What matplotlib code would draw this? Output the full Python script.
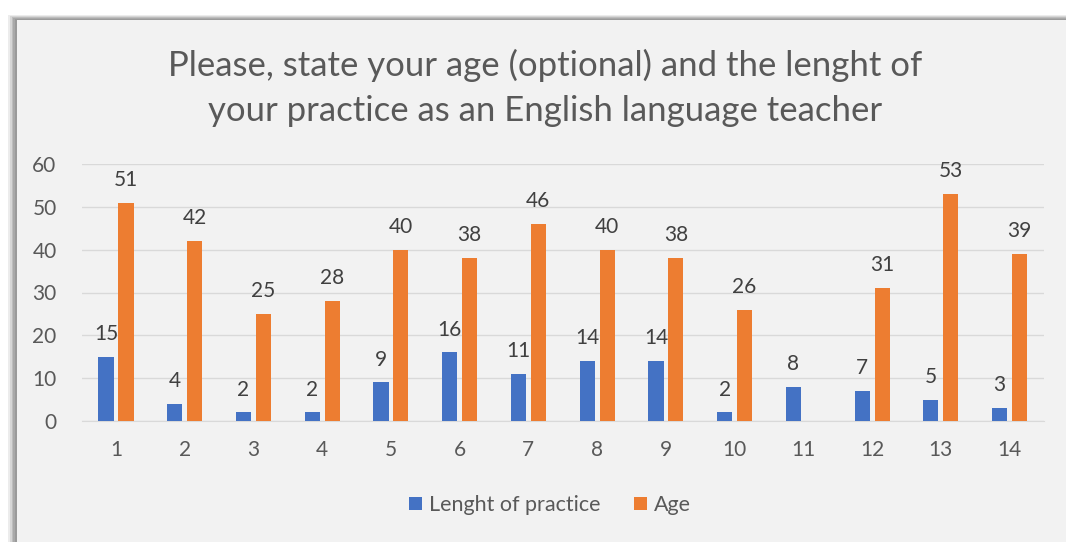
import matplotlib
matplotlib.use("Agg")
import matplotlib.pyplot as plt
from matplotlib.patches import Rectangle
import numpy as np

categories = [str(i) for i in range(1, 15)]
practice = [15, 4, 2, 2, 9, 16, 11, 14, 14, 2, 8, 7, 5, 3]
age = [51, 42, 25, 28, 40, 38, 46, 40, 38, 26, None, 31, 53, 39]
series_names = ["Lenght of practice", "Age"]
title = "Please, state your age (optional) and the lenght of\nyour practice as an English language teacher"

plt.rcParams['font.family'] = ['Lato', 'DejaVu Sans']

W, H = 1066, 542
fig = plt.figure(figsize=(W/100, H/100), dpi=100)
fig.patch.set_facecolor('white')

# shadow + panel
px0, py0 = 17, 20
for i, c in enumerate(['#ececec', '#d6d6d6', '#bdbdbd', '#a9a9a9', '#9a9a9a']):
    fig.patches.append(Rectangle(((px0 - 9 + i*1.8)/W, 0), 1, (H - py0 + 5 - i*1.0)/H,
                                 transform=fig.transFigure, facecolor=c, edgecolor='none', zorder=-5))
fig.patches.append(Rectangle((px0/W, 0), 1, (H - py0)/H, transform=fig.transFigure,
                             facecolor='#F2F2F2', edgecolor='none', zorder=-4))

ax = fig.add_axes([81.6/W, 1 - 421/H, (1044 - 81.6)/W, (421 - 164)/H])
ax.set_zorder(5)
ax.set_facecolor('none')
x = np.arange(len(categories))
bw = 0.22
off = 0.145
blue = '#4472C4'
orange = '#ED7D31'
age_vals = [v if v is not None else 0 for v in age]
b1 = ax.bar(x - off, practice, bw, color=blue, zorder=3, label=series_names[0])
b2 = ax.bar(x + off, age_vals, bw, color=orange, zorder=3, label=series_names[1])

fs = 15
for xi, v in zip(x, practice):
    ax.text(xi - off, v + 3, str(v), ha='center', va='bottom', fontsize=fs, color='#404040')
for xi, v in zip(x, age):
    if v is not None:
        ax.text(xi + off, v + 3, str(v), ha='center', va='bottom', fontsize=fs, color='#404040')

ax.set_xlim(-0.5, len(categories) - 0.5)
ax.set_ylim(0, 60)
ax.set_yticks(range(0, 61, 10))
ax.set_xticks(x)
ax.set_xticklabels(categories)
ax.grid(axis='y', color='#D9D9D9', linewidth=1, zorder=0)
ax.set_axisbelow(True)
for s in ['top', 'right', 'left']:
    ax.spines[s].set_visible(False)
ax.spines['bottom'].set_color('#D9D9D9')
ax.tick_params(length=0, labelsize=fs, labelcolor='#595959')
ax.tick_params(axis='x', pad=14)
ax.tick_params(axis='y', pad=18)

fig.text(545/W, 1 - 88/H, title, ha='center', va='center', fontsize=25,
         color='#595959', linespacing=1.5, zorder=6)

leg = fig.legend(handles=[b1, b2], loc='center', bbox_to_anchor=(550/W, 1 - 505/H),
                 ncol=2, frameon=False, fontsize=15.5, handlelength=0.6, handleheight=0.6,
                 handletextpad=0.3, columnspacing=1.6)
for t in leg.get_texts():
    t.set_color('#595959')

fig.savefig('out.png', dpi=100, facecolor=fig.get_facecolor())
